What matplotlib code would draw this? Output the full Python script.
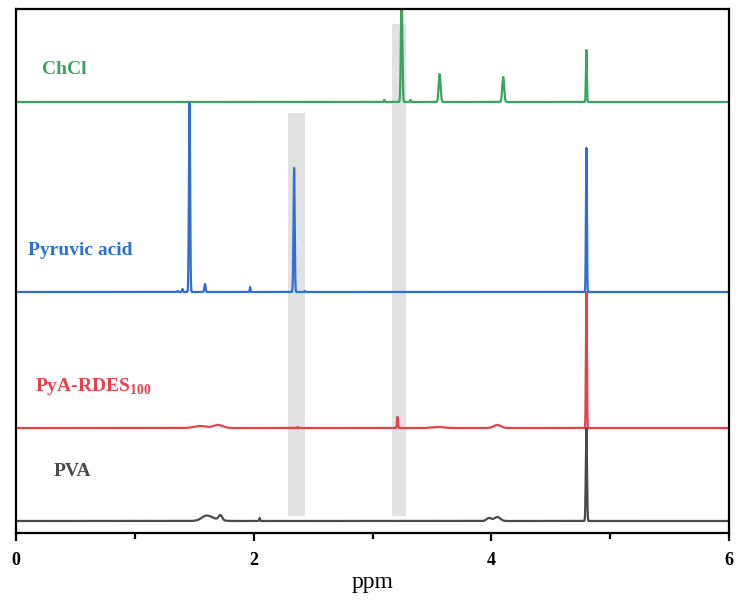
import numpy as np
import matplotlib
matplotlib.use('Agg')
import matplotlib.pyplot as plt
from matplotlib.ticker import MultipleLocator

plt.rcParams['font.family'] = ['Liberation Serif', 'DejaVu Serif']
plt.rcParams['mathtext.fontset'] = 'custom'
plt.rcParams['mathtext.rm'] = 'Liberation Serif'
plt.rcParams['mathtext.bf'] = 'Liberation Serif:bold'

# Peak lists: (shift in ppm, height, width)
chcl_peaks = [(3.10, 0.02, 0.004), (3.245, 1.10, 0.006), (3.32, 0.02, 0.004),
              (3.565, 0.28, 0.008), (4.10, 0.25, 0.008), (4.80, 0.52, 0.004)]
pyruvic_peaks = [(1.36, 0.01, 0.004), (1.40, 0.03, 0.004), (1.46, 1.89, 0.005),
                 (1.59, 0.08, 0.005), (1.97, 0.05, 0.003), (2.34, 1.24, 0.005),
                 (2.43, 0.01, 0.004), (4.80, 1.44, 0.004)]
pya_peaks = [(1.55, 0.02, 0.05), (1.70, 0.03, 0.04), (2.37, 0.01, 0.003),
             (3.21, 0.11, 0.004), (3.55, 0.01, 0.05), (4.05, 0.03, 0.03),
             (4.80, 1.36, 0.004)]
pva_peaks = [(1.60, 0.04, 0.04), (1.72, 0.05, 0.015), (1.65, 0.02, 0.06),
             (2.05, 0.03, 0.004), (3.98, 0.03, 0.02), (4.05, 0.04, 0.025),
             (4.80, 0.93, 0.005)]

names = ['ChCl', 'Pyruvic acid', 'PyA-RDES$_{\\mathbf{100}}$', 'PVA']
peak_sets = [chcl_peaks, pyruvic_peaks, pya_peaks, pva_peaks]
offsets = [4.31, 2.41, 1.05, 0.12]
colors = ['#3aa55f', '#2f6fd4', '#e8414a', '#4a4a4a']
label_pos = [(0.22, 4.59), (0.10, 2.78), (0.16, 1.42), (0.32, 0.57)]

# shaded regions marking the shifted signals
bands = [(2.29, 2.43, 0.17, 4.20), (3.16, 3.28, 0.17, 5.09)]

x = np.linspace(0, 6, 24001)


def spectrum(peaks):
    y = np.zeros_like(x)
    for pos, h, w in peaks:
        y += h * np.exp(-0.5 * ((x - pos) / w) ** 2)
    return y


fig = plt.figure(figsize=(7.41, 6.01), dpi=100)
ax = fig.add_axes([16 / 741, 1 - 533 / 601, 713 / 741, 524 / 601])

for x0, x1, y0, y1 in bands:
    ax.fill_between([x0, x1], y0, y1, color='#e2e2e2', lw=0, zorder=0)

for name, peaks, off, c, (lx, ly) in zip(names, peak_sets, offsets, colors, label_pos):
    ax.plot(x, spectrum(peaks) + off, color=c, lw=1.6)
    ax.text(lx, ly, name, color=c, fontsize=14, fontweight='bold')

ax.set_xlim(0, 6)
ax.set_ylim(0, 5.24)
ax.set_yticks([])
ax.xaxis.set_major_locator(MultipleLocator(2))
ax.xaxis.set_minor_locator(MultipleLocator(1))
ax.tick_params(axis='x', which='major', direction='out', length=6, width=1.6,
               labelsize=13, pad=8)
ax.tick_params(axis='x', which='minor', direction='out', length=4, width=1.6)
for lab in ax.get_xticklabels():
    lab.set_fontweight('bold')
for sp in ax.spines.values():
    sp.set_linewidth(1.6)
ax.set_xlabel('ppm', fontsize=17, labelpad=2)

fig.savefig('out.png', dpi=100)
